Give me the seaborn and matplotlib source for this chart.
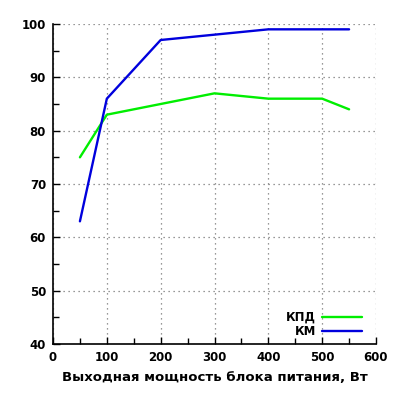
import seaborn as sns
import matplotlib.pyplot as plt
from matplotlib.ticker import MultipleLocator

# Data
power = [50, 100, 200, 300, 400, 500, 550]
kpd = [75, 83, 85, 87, 86, 86, 84]
km = [63, 86, 97, 98, 99, 99, 99]

sns.set_style("white")
plt.rcParams["font.family"] = ["DejaVu Sans"]
plt.rcParams["font.weight"] = "bold"
plt.rcParams["text.color"] = "black"
plt.rcParams["axes.labelcolor"] = "black"
plt.rcParams["xtick.color"] = "black"
plt.rcParams["ytick.color"] = "black"
plt.rcParams["xtick.direction"] = "in"
plt.rcParams["ytick.direction"] = "in"
plt.rcParams["xtick.bottom"] = True
plt.rcParams["ytick.left"] = True

fig = plt.figure(figsize=(4, 4), dpi=100)
ax = fig.add_axes([0.1325, 0.14, 0.8075, 0.8])

sns.lineplot(x=power, y=kpd, color="#00ee00", linewidth=1.7, label="КПД", ax=ax)
sns.lineplot(x=power, y=km, color="#0000dd", linewidth=1.7, label="КМ", ax=ax)

ax.set_xlim(0, 600)
ax.set_ylim(40, 100)
ax.xaxis.set_major_locator(MultipleLocator(100))
ax.xaxis.set_minor_locator(MultipleLocator(50))
ax.yaxis.set_major_locator(MultipleLocator(10))
ax.yaxis.set_minor_locator(MultipleLocator(5))
ax.tick_params(which="major", direction="in", length=5, width=1, labelsize=8.5, pad=5)
ax.tick_params(which="minor", direction="in", length=4, width=1)
for lbl in ax.get_xticklabels() + ax.get_yticklabels():
    lbl.set_fontweight("bold")

ax.grid(True, which="major", linestyle=(0, (1, 3)), color="#777777", linewidth=0.9)
for side in ["top", "right"]:
    ax.spines[side].set_visible(False)
for side in ["left", "bottom"]:
    ax.spines[side].set_color("black")
    ax.spines[side].set_linewidth(1.2)

ax.set_xlabel("Выходная мощность блока питания, Вт", fontsize=9.5, fontweight="bold", labelpad=5)
ax.set_ylabel("")

leg = ax.legend(loc="lower right", bbox_to_anchor=(0.975, 0.0), frameon=False, markerfirst=False,
                prop={"weight": "bold", "size": 8.5}, handlelength=3.4, handletextpad=0.5,
                labelspacing=0.1, borderaxespad=0.1)

fig.savefig("out.png", dpi=100)
